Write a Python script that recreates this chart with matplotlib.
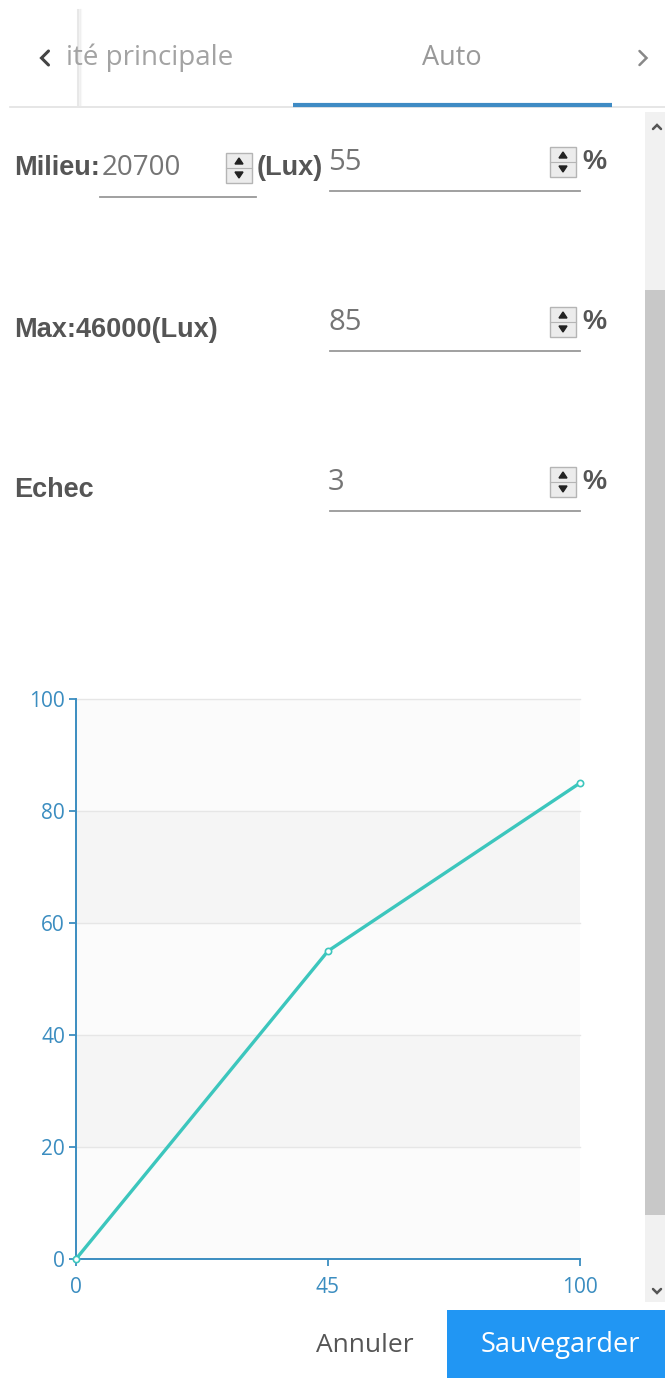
import matplotlib
matplotlib.use('Agg')
import matplotlib.pyplot as plt
from matplotlib.patches import Rectangle, Polygon

# chart data (x is a category axis: 0, 45, 100 evenly spaced)
x_cats = ['0', '45', '100']
y_vals = [0, 55, 85]
y_ticks = [0, 20, 40, 60, 80, 100]

# form texts
tab_left = 'ité principale'
tab_active = 'Auto'
row_labels = ['Milieu:', 'Max:46000(Lux)', 'Echec']
milieu_lux = '20700'
row_values = ['55', '85', '3']
btn_cancel = 'Annuler'
btn_save = 'Sauvegarder'

W, H = 665, 1378
axis_blue = '#3b8dc0'
teal = '#3cc6bd'
label_col = '#555555'
value_col = '#757575'
bold_font = ['Liberation Sans Narrow', 'Liberation Sans', 'DejaVu Sans']
thin_font = ['Open Sans', 'DejaVu Sans']

fig = plt.figure(figsize=(W / 100, H / 100), dpi=100)
ui = fig.add_axes([0, 0, 1, 1])
ui.set_xlim(0, W)
ui.set_ylim(H, 0)
ui.axis('off')


def chevron(cx, cy, size, direction, color, lw=2.2):
    if direction == 'left':
        pts = [(cx + size / 2, cy - size), (cx - size / 2, cy), (cx + size / 2, cy + size)]
    elif direction == 'right':
        pts = [(cx - size / 2, cy - size), (cx + size / 2, cy), (cx - size / 2, cy + size)]
    elif direction == 'up':
        pts = [(cx - size, cy + size / 2), (cx, cy - size / 2), (cx + size, cy + size / 2)]
    else:
        pts = [(cx - size, cy - size / 2), (cx, cy + size / 2), (cx + size, cy - size / 2)]
    ui.plot([p[0] for p in pts], [p[1] for p in pts], color=color, lw=lw, solid_capstyle='round',
            solid_joinstyle='miter')


# --- tab bar ---
ui.text(66, 58, tab_left, fontsize=20, color='#a3a3a3', ha='left', va='center', family=thin_font)
ui.add_patch(Rectangle((0, 8), 77, 98, color='white', lw=0))
chevron(45, 58, 7, 'left', '#444444')
for i, a in enumerate([0.45, 0.22, 0.1]):
    ui.plot([78 + i * 1.5, 78 + i * 1.5], [10, 105], color='#cccccc', lw=1.5, alpha=a)
ui.text(452, 58, tab_active, fontsize=19.5, color='#999999', ha='center', va='center', family=thin_font)
chevron(643, 58, 7, 'right', '#888888', lw=1.8)
ui.plot([10, 665], [107, 107], color='#e2e2e2', lw=1.2)
ui.plot([293, 612], [104.5, 104.5], color='#3f8bc4', lw=3, solid_capstyle='butt')

# --- scrollbar ---
ui.add_patch(Rectangle((645, 112), 20, 1190, color='#f1f1f1', lw=0))
ui.add_patch(Rectangle((645, 290), 20, 925, color='#c8c8c8', lw=0))
chevron(657, 127, 4, 'up', '#555555', lw=1.8)
chevron(657, 1291, 4, 'down', '#555555', lw=1.8)


def spinner(x0, y0, w=26, h=30):
    ui.add_patch(Rectangle((x0, y0), w, h, facecolor='#ececec', edgecolor='#b5b5b5', lw=1))
    ui.plot([x0, x0 + w], [y0 + h / 2, y0 + h / 2], color='#b5b5b5', lw=0.8)
    cx = x0 + w / 2
    ui.add_patch(Polygon([[cx - 4, y0 + h / 2 - 4], [cx + 4, y0 + h / 2 - 4], [cx, y0 + h / 2 - 10]], color='#222222'))
    ui.add_patch(Polygon([[cx - 4, y0 + h / 2 + 4], [cx + 4, y0 + h / 2 + 4], [cx, y0 + h / 2 + 10]], color='#222222'))


# --- form rows ---
row_y = [168, 330, 490]
val_y = [162, 322, 482]
line_y = [191, 351, 511]
for lab, ly in zip(row_labels, row_y):
    ui.text(14, ly, lab, fontsize=19.5, color=label_col, ha='left', va='center', family=bold_font,
            fontweight='bold')
for val, vy, uy in zip(row_values, val_y, line_y):
    ui.text(328, vy, val, fontsize=21, color=value_col, ha='left', va='center', family=thin_font)
    ui.plot([330, 580], [uy, uy], color='#999999', lw=1.3)
    spinner(550, vy - 15)
    ui.text(582, vy, '%', fontsize=19.5, color=label_col, ha='left', va='center', family=bold_font,
            fontweight='bold')

ui.text(102, 168, milieu_lux, fontsize=20, color=value_col, ha='left', va='center', family=thin_font)
ui.plot([100, 256], [197, 197], color='#999999', lw=1.3)
spinner(226, 153)
ui.text(257, 168, '(Lux)', fontsize=19.5, color=label_col, ha='left', va='center', family=bold_font,
        fontweight='bold')

# --- buttons ---
ui.text(365, 1345, btn_cancel, fontsize=19, color=label_col, ha='center', va='center', family=thin_font)
ui.add_patch(Rectangle((447, 1310), 230, 80, color='#2196f3', lw=0))
ui.text(560, 1345, btn_save, fontsize=19.5, color='white', ha='center', va='center', family=thin_font)

# --- chart ---
pos = list(range(len(x_cats)))
ax = fig.add_axes([76 / W, 1 - 1259 / H, (580 - 76) / W, (1259 - 699) / H])
ax.set_xlim(pos[0], pos[-1])
ax.set_ylim(0, 100)
ax.patch.set_alpha(0)
band_cols = ['#fbfbfb', '#f5f5f5']
for i, (lo, hi) in enumerate(zip(y_ticks[:-1], y_ticks[1:])):
    ax.axhspan(lo, hi, color=band_cols[i % 2], lw=0, zorder=0)
for t in y_ticks[1:]:
    ax.axhline(t, color='#e6e6e6', lw=1, zorder=1, clip_on=False)

ax.plot(pos, y_vals, color=teal, lw=2.4, marker='o', ms=4.5, mfc='white', mec=teal, mew=1.2, zorder=3,
        clip_on=False)

for s in ['top', 'right']:
    ax.spines[s].set_visible(False)
for s in ['left', 'bottom']:
    ax.spines[s].set_color(axis_blue)
    ax.spines[s].set_linewidth(1.4)
ax.set_xticks(pos)
ax.set_xticklabels(x_cats)
ax.set_yticks(y_ticks)
ax.tick_params(colors=axis_blue, length=5, width=1.3, labelsize=15)
ax.tick_params(axis='x', pad=8)
ax.tick_params(axis='y', pad=3)
for lab in ax.get_xticklabels() + ax.get_yticklabels():
    lab.set_family(thin_font)

fig.savefig('out.png', dpi=100)
